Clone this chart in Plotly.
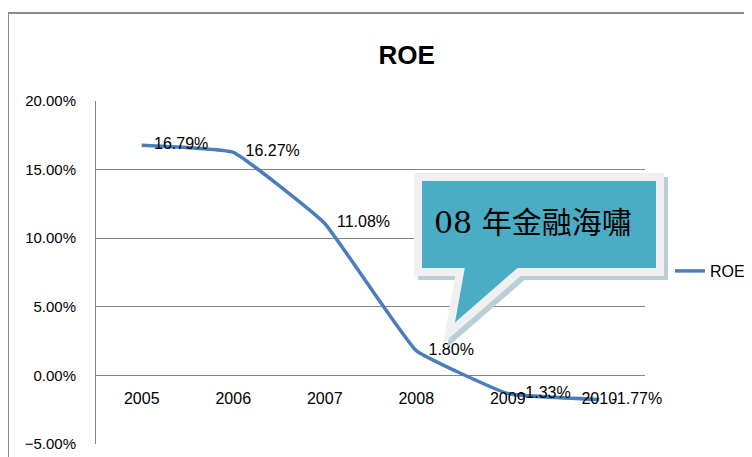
import plotly.graph_objects as go

years = ["2005", "2006", "2007", "2008", "2009", "2010"]
roe = [0.1679, 0.1627, 0.1108, 0.0180, -0.0133, -0.0177]
series_name = "ROE"
chart_title = "ROE"
callout_text = "08 年金融海嘯"

W, H = 752, 457
OFF = 8  # page body margin offset
L, R, T, B = 96, 645, 101, 444  # plot area in page pixels


def px(x):
    return (x - L) / (R - L)


def py(y):
    return (B - y) / (B - T)


def path(points):
    s = "M" + " L".join(f"{px(x):.5f},{py(y):.5f}" for x, y in points) + " Z"
    return s


labels = [f"{v*100:.2f}%" for v in roe]

fig = go.Figure()
fig.add_trace(go.Scatter(
    x=years, y=roe, name=series_name,
    mode="lines+markers+text",
    marker=dict(size=18, color="rgba(0,0,0,0)", line=dict(width=0)),
    line=dict(color="#4A7EBB", width=3.5, shape="spline", smoothing=0.3),
    text=labels, textposition="middle right",
    textfont=dict(family="Liberation Sans, Arial, sans-serif", size=16, color="#000"),
    cliponaxis=False,
))

callout = [(418, 177), (660, 177), (660, 272), (519, 272), (449, 333), (460, 272), (418, 272)]
shadow = [(x + 4, y + 4) for x, y in callout]

shapes = [
    # outer chart border (top and left)
    dict(type="line", xref="paper", yref="paper", x0=px(7), x1=px(760), y0=py(13), y1=py(13),
         line=dict(color="#8c8c8c", width=2)),
    dict(type="line", xref="paper", yref="paper", x0=px(8), x1=px(8), y0=py(13), y1=py(470),
         line=dict(color="#8c8c8c", width=2)),
    dict(type="path", xref="paper", yref="paper", path=path(shadow),
         fillcolor="#b9cfd5", line=dict(color="#b9cfd5", width=8), layer="above"),
    dict(type="path", xref="paper", yref="paper", path=path(callout),
         fillcolor="#4BACC6", line=dict(color="#f0f0f0", width=8), layer="above"),
]

annotations = [
    dict(xref="paper", yref="paper", x=px(432), y=py(222), xanchor="left", yanchor="middle",
         text=callout_text, showarrow=False,
         font=dict(family="'DejaVu Serif', 'Liberation Serif', 'Noto Sans CJK TC', serif",
                   size=30, color="#000")),
]

fig.update_layout(
    width=W, height=H,
    margin=dict(l=L - OFF, r=W - (R - OFF), t=T - OFF, b=H - (B - OFF), pad=0, autoexpand=False),
    paper_bgcolor="white", plot_bgcolor="white",
    title=dict(text=f"<b>{chart_title}</b>", x=px(387), xanchor="center", y=1 - (55 - OFF) / H,
               yanchor="middle",
               font=dict(family="Liberation Sans, Arial, sans-serif", size=26, color="#000")),
    font=dict(family="Liberation Sans, Arial, sans-serif", size=16, color="#000"),
    showlegend=True,
    legend=dict(x=px(670), y=py(271), xanchor="left", yanchor="middle",
                font=dict(size=16, color="#000"), bgcolor="rgba(0,0,0,0)"),
    xaxis=dict(type="category", categoryorder="array", categoryarray=years, range=[-0.5, 5.5],
               showgrid=False, showline=False, zeroline=False, anchor="free", position=0.2,
               ticks="", ticklabelstandoff=12, tickfont=dict(size=16)),
    yaxis=dict(range=[-0.0501, 0.2001], dtick=0.05, tick0=0, tickformat=".2%",
               showgrid=True, gridcolor="#868686", gridwidth=1, zeroline=False,
               showline=True, linecolor="#868686", linewidth=1,
               ticks="", ticklabelstandoff=16, tickfont=dict(size=15)),
    shapes=shapes, annotations=annotations,
)

fig.write_html("out.html")
